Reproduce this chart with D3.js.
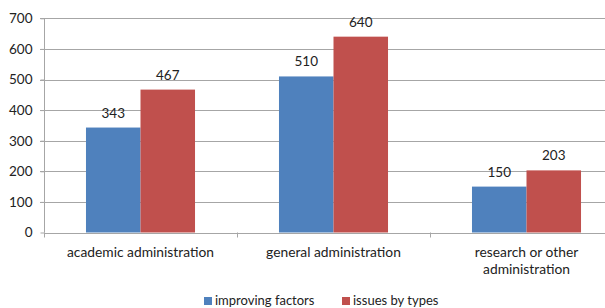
<!DOCTYPE html>
<html><head><meta charset="utf-8">
<script src="https://cdn.jsdelivr.net/npm/d3@7"></script>
<style>body{margin:0;background:#fff}svg{display:block;font-family:"Lato","Open Sans",sans-serif}</style>
</head><body>
<svg id="c" width="605" height="308"></svg>
<script>
const categories = [["academic administration"],["general administration"],["research or other","administration"]];
const seriesNames = ["improving factors","issues by types"];
const improving = [343,510,150];
const issues = [467,640,203];
const yTicks = [0,100,200,300,400,500,600,700];
const colors = ["#4F81BD","#C0504D"];

const svg = d3.select("#c");
const x0 = d3.scaleBand().domain(d3.range(categories.length)).range([44,623]).paddingInner(0).paddingOuter(0);
const x1 = d3.scaleBand().domain([0,1]).range([0,x0.bandwidth()]).paddingInner(0).paddingOuter(0.77);
const y = d3.scaleLinear().domain([0,700]).range([232.5,18.3]);
const textColor = "#222";

// gridlines
svg.append("g").selectAll("line").data(yTicks.slice(1)).join("line")
  .attr("x1",40).attr("x2",605).attr("y1",d=>Math.round(y(d))+0.5).attr("y2",d=>Math.round(y(d))+0.5)
  .attr("stroke","#a6a6a6").attr("stroke-width",1);

// y axis
const ya = svg.append("g").attr("transform","translate(44.5,0)")
  .call(d3.axisLeft(y).tickValues(yTicks).tickSize(4).tickPadding(8).tickFormat(d3.format("d")));
ya.select(".domain").attr("stroke","#a6a6a6").attr("d",`M0,${y(0)}V${y(700)}`);
ya.selectAll(".tick line").attr("stroke","#a6a6a6");
ya.selectAll(".tick text").attr("font-size",13.5).attr("fill",textColor).attr("font-family","Lato, sans-serif");

// bars
const series = [improving, issues];
const g = svg.append("g");
categories.forEach((c,i)=>{
  series.forEach((s,j)=>{
    g.append("rect").attr("x",x0(i)+x1(j)).attr("y",y(s[i])).attr("width",x1.bandwidth())
      .attr("height",y(0)-y(s[i])).attr("fill",colors[j]);
    g.append("text").attr("x",x0(i)+x1(j)+x1.bandwidth()/2).attr("y",y(s[i])-10)
      .attr("text-anchor","middle").attr("font-size",13.5).attr("fill",textColor).text(s[i]);
  });
});

// x axis
const xa = svg.append("g");
xa.append("line").attr("x1",44).attr("x2",605).attr("y1",Math.round(y(0))+0.5).attr("y2",Math.round(y(0))+0.5).attr("stroke","#a6a6a6");
[0,1,2].forEach(i=>{
  xa.append("line").attr("x1",Math.round(x0(i))+0.5).attr("x2",Math.round(x0(i))+0.5)
    .attr("y1",y(0)).attr("y2",y(0)+5).attr("stroke","#a6a6a6");
});
categories.forEach((lines,i)=>{
  const t = xa.append("text").attr("text-anchor","middle").attr("font-size",13.8).attr("fill",textColor);
  lines.forEach((l,k)=>t.append("tspan").attr("x",x0(i)+x0.bandwidth()/2).attr("y",256.5+k*17).text(l));
});

// legend
const lg = svg.append("g");
const legX = [204,342];
seriesNames.forEach((n,j)=>{
  lg.append("rect").attr("x",legX[j]).attr("y",297).attr("width",8).attr("height",8).attr("fill",colors[j]);
  lg.append("text").attr("x",legX[j]+11).attr("y",305).attr("font-size",13).attr("fill",textColor).text(n);
});
</script>
</body></html>
